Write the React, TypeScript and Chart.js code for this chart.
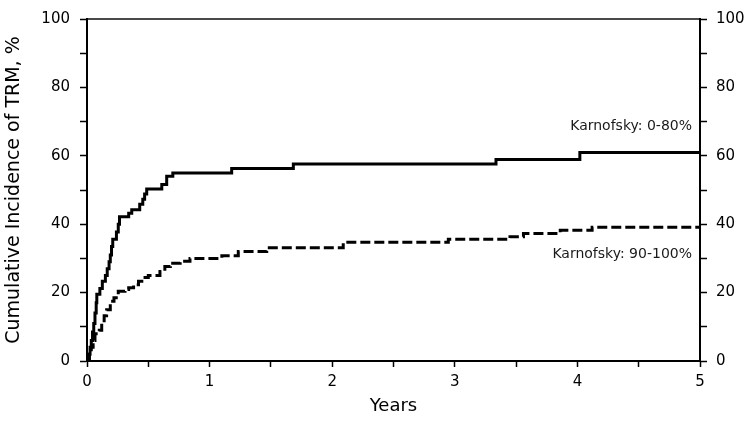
import React, { useEffect, useRef } from "react";
import { Chart, registerables } from "chart.js";

Chart.register(...registerables);

// Karnofsky 0-80% (solid)
const lowKpsYears = [0, 0.015, 0.025, 0.035, 0.045, 0.055, 0.065, 0.075, 0.08, 0.105, 0.125, 0.15, 0.165, 0.18, 0.19, 0.2, 0.21, 0.24, 0.255, 0.265, 0.34, 0.365, 0.43, 0.455, 0.47, 0.487, 0.61, 0.65, 0.7, 1.18, 1.683, 3.336, 4.02, 5];
const lowKpsValues = [0, 2, 4, 6, 8.5, 11, 14, 17, 19.5, 21.2, 23.3, 25, 27, 29, 31, 33.5, 35.6, 37.7, 40, 42.2, 43.2, 44.2, 45.8, 47.3, 48.8, 50.3, 51.6, 54, 55, 56.3, 57.6, 58.9, 61, 61];

// Karnofsky 90-100% (dashed)
const highKpsYears = [0, 0.02, 0.035, 0.05, 0.065, 0.1, 0.12, 0.14, 0.16, 0.19, 0.22, 0.255, 0.31, 0.34, 0.38, 0.42, 0.46, 0.5, 0.595, 0.635, 0.68, 0.76, 0.84, 1.1, 1.234, 1.466, 2.09, 2.947, 3.45, 3.56, 3.86, 4.12, 5];
const highKpsValues = [0, 2, 4, 6, 8, 9, 11.8, 13.2, 15, 17.5, 18.5, 20.4, 20.9, 21.4, 22.3, 23.3, 24.4, 25, 26.2, 27.6, 28.6, 29.2, 30, 30.8, 32, 33.1, 34.7, 35.6, 36.3, 37.3, 38.2, 39.1, 39.1];

const seriesLabels = ["Karnofsky: 0-80%", "Karnofsky: 90-100%"];
const labelYValues = [68.6, 31.2];
const labelXValue = 5;

const xTitle = "Years";
const yTitle = "Cumulative Incidence of TRM, %";

const FONT = "'DejaVu Sans', Verdana, sans-serif";

const toPoints = (xs: number[], ys: number[]) => xs.map((x, i) => ({ x, y: ys[i] }));

const labelPlugin = {
  id: "seriesLabels",
  afterDatasetsDraw(chart: any) {
    const { ctx, scales } = chart;
    const xs = scales.x;
    const ys = scales.y;
    ctx.save();
    ctx.font = `14px ${FONT}`;
    ctx.fillStyle = "#1a1a1a";
    ctx.textAlign = "right";
    ctx.textBaseline = "middle";
    seriesLabels.forEach((t, i) => {
      ctx.fillText(t, xs.getPixelForValue(labelXValue) - 8, ys.getPixelForValue(labelYValues[i]));
    });
    ctx.restore();
  },
};

export default function App() {
  const ref = useRef<HTMLCanvasElement>(null);
  useEffect(() => {
    if (!ref.current) return;
    const tickFont = { family: FONT, size: 15 };
    const chart = new Chart(ref.current, {
      type: "line",
      data: {
        datasets: [
          {
            label: seriesLabels[0],
            data: toPoints(lowKpsYears, lowKpsValues),
            borderColor: "#000",
            borderWidth: 3,
            stepped: "before",
            pointRadius: 0,
            fill: false,
          },
          {
            label: seriesLabels[1],
            data: toPoints(highKpsYears, highKpsValues),
            borderColor: "#000",
            borderWidth: 3,
            borderDash: [10, 4],
            stepped: "before",
            pointRadius: 0,
            fill: false,
          },
        ],
      },
      options: {
        animation: false,
        responsive: false,
        maintainAspectRatio: false,
        layout: { padding: 0 },
        plugins: { legend: { display: false }, tooltip: { enabled: false } },
        scales: {
          x: {
            type: "linear",
            position: "bottom",
            min: 0,
            max: 5,
            afterFit: (s: any) => { s.height = 60; },
            ticks: {
              stepSize: 0.5,
              autoSkip: false,
              maxRotation: 0,
              padding: 6,
              color: "#000",
              font: tickFont,
              callback: (v: any) => (Number.isInteger(v) ? String(v) : ""),
            },
            grid: { drawOnChartArea: false, drawTicks: true, tickLength: 6, tickColor: "#000", tickWidth: 1.5 },
            border: { display: true, color: "#000", width: 2 },
            title: { display: true, text: xTitle, color: "#000", font: { family: FONT, size: 18 }, padding: { top: 4, bottom: 4 } },
          },
          xTop: {
            type: "linear",
            position: "top",
            min: 0,
            max: 5,
            afterFit: (s: any) => { s.height = 14; },
            ticks: { display: false },
            grid: { drawOnChartArea: false, drawTicks: false },
            border: { display: true, color: "#4a4a4a", width: 2 },
          },
          y: {
            type: "linear",
            position: "left",
            min: 0,
            max: 100,
            afterFit: (s: any) => { s.width = 87; },
            ticks: {
              stepSize: 10,
              autoSkip: false,
              padding: 10,
              color: "#000",
              font: tickFont,
              callback: (v: any) => (v % 20 === 0 ? String(v) : ""),
            },
            grid: { drawOnChartArea: false, drawTicks: true, tickLength: 7, tickColor: "#000", tickWidth: 1.5 },
            border: { display: true, color: "#000", width: 2 },
            title: { display: true, text: yTitle, color: "#000", font: { family: FONT, size: 19 }, padding: { top: 3, bottom: 4 } },
          },
          yRight: {
            type: "linear",
            position: "right",
            min: 0,
            max: 100,
            afterFit: (s: any) => { s.width = 51; },
            ticks: {
              stepSize: 10,
              autoSkip: false,
              padding: 9,
              color: "#000",
              font: tickFont,
              callback: (v: any) => (v % 20 === 0 ? String(v) : ""),
            },
            grid: { drawOnChartArea: false, drawTicks: true, tickLength: 7, tickColor: "#000", tickWidth: 1.5 },
            border: { display: true, color: "#000", width: 2 },
          },
        },
      },
      plugins: [labelPlugin],
    } as any);
    return () => chart.destroy();
  }, []);
  return (
    <div style={{ position: "fixed", left: 0, top: 0, width: 751, height: 421, background: "#fff" }}>
      <canvas ref={ref} width={751} height={421} style={{ width: 751, height: 421, display: "block" }} />
    </div>
  );
}
